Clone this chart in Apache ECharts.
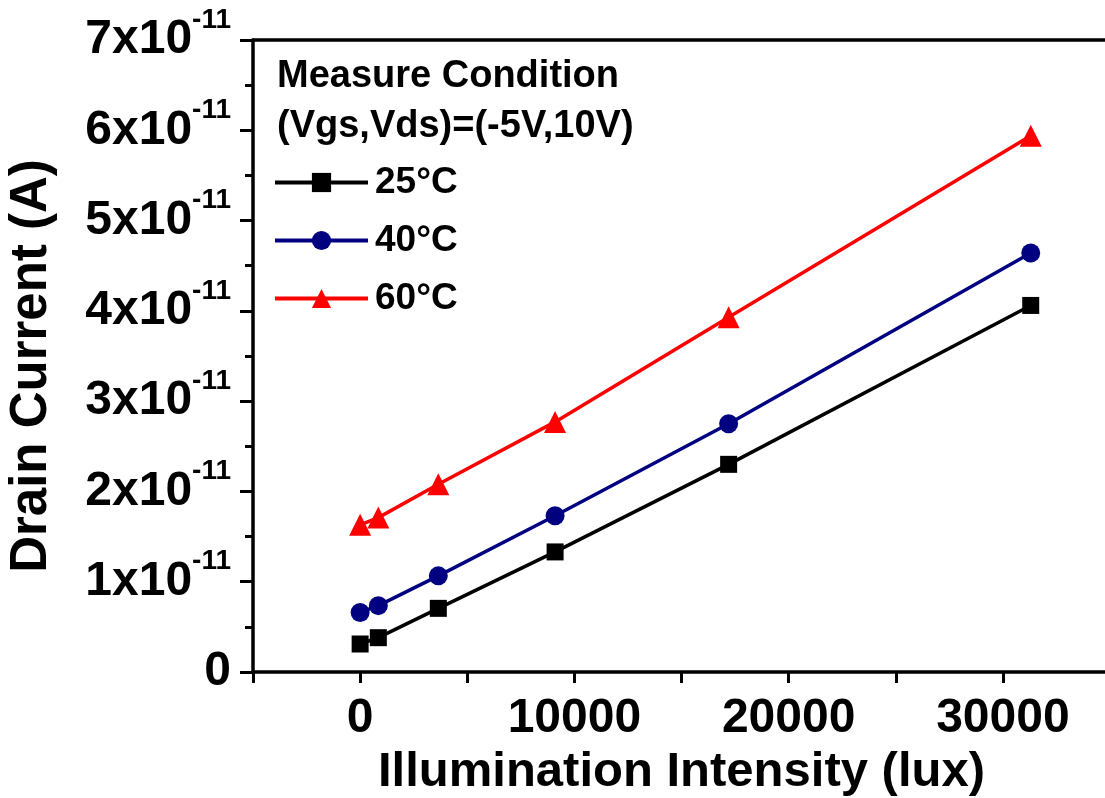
<!DOCTYPE html>
<html>
  <head>
    <title></title>
    <meta charset="UTF-8" />
    <script src="https://cdn.jsdelivr.net/npm/echarts@6/dist/echarts.min.js"></script>
    <style>
      html, body { margin: 0; padding: 0; background: #fff; }
    </style>
  </head>
  <body>
    <div id="main"></div>
    <script>
      const width = 1105;
      const height = 798;
      const main = document.getElementById('main');
      main.style.width = `${width}px`;
      main.style.height = `${height}px`;

      // illumination intensity (lux)
      const lux = [0, 850, 3650, 9100, 17200, 31300];
      // drain current (A)
      const current25 = [0.31e-11, 0.38e-11, 0.705e-11, 1.33e-11, 2.3e-11, 4.06e-11];
      const current40 = [0.66e-11, 0.735e-11, 1.065e-11, 1.73e-11, 2.75e-11, 4.64e-11];
      const current60 = [1.63e-11, 1.71e-11, 2.08e-11, 2.77e-11, 3.93e-11, 5.94e-11];
      const seriesNames = ['25°C', '40°C', '60°C'];
      const yTicks = [0, 1, 2, 3, 4, 5, 6, 7]; // x10^-11

      const font = '"Liberation Sans", Arial, sans-serif';
      const pairs = (ys) => lux.map((x, i) => [x, ys[i]]);

      const myChart = echarts.init(main);
      const option = {
        backgroundColor: '#fff',
        animation: false,
        grid: {
          left: 253,
          right: -5,
          top: 40,
          bottom: 126,
          outerBoundsMode: 'none',
        },
        graphic: [
          {
            type: 'text',
            left: 277,
            top: 58,
            style: { text: 'Measure Condition', font: `bold 38px ${font}`, fill: '#000' },
          },
          {
            type: 'text',
            left: 277,
            top: 108,
            style: { text: '(Vgs,Vds)=(-5V,10V)', font: `bold 38px ${font}`, fill: '#000' },
          },
        ],
        legend: {
          data: seriesNames,
          orient: 'vertical',
          left: 273,
          top: 164,
          padding: 0,
          itemWidth: 93,
          itemHeight: 24,
          itemGap: 21,
          lineStyle: { width: 4 },
          textStyle: {
            fontFamily: font,
            fontWeight: 'bold',
            fontSize: 37,
            color: '#000',
            lineHeight: 36,
            padding: [0, 0, 0, 2],
          },
        },
        xAxis: [
          {
            type: 'value',
            position: 'bottom',
            min: -5000,
            max: 35000,
            interval: 5000,
            name: 'Illumination Intensity (lux)',
            nameLocation: 'middle',
            nameGap: 73,
            nameTextStyle: { fontFamily: font, fontWeight: 'bold', fontSize: 49, color: '#000' },
            axisLine: { onZero: false, lineStyle: { color: '#000', width: 3.5 } },
            axisTick: { inside: false, length: 11, lineStyle: { color: '#000', width: 3 } },
            axisLabel: {
              margin: 23,
              fontFamily: font,
              fontWeight: 'bold',
              fontSize: 48,
              color: '#000',
              formatter: (v) => (v >= 0 && v % 10000 === 0 ? String(v) : ''),
            },
            splitLine: { show: false },
          },
          {
            type: 'value',
            position: 'top',
            min: -5000,
            max: 35000,
            axisLine: { onZero: false, lineStyle: { color: '#000', width: 3.5 } },
            axisTick: { show: false },
            axisLabel: { show: false },
            splitLine: { show: false },
          },
        ],
        yAxis: {
          type: 'value',
          min: 0,
          max: 7e-11,
          interval: 1e-11,
          name: 'Drain Current (A)',
          nameLocation: 'middle',
          nameGap: 196,
          nameTextStyle: { fontFamily: font, fontWeight: 'bold', fontSize: 51, color: '#000', padding: [0, 20, 0, 0] },
          axisLine: { show: true, onZero: false, lineStyle: { color: '#000', width: 3.5 } },
          axisTick: { inside: false, length: 13, lineStyle: { color: '#000', width: 3 } },
          minorTick: { show: true, splitNumber: 2, length: 8, lineStyle: { color: '#000', width: 3 } },
          axisLabel: {
            margin: 22,
            formatter: (v) => {
              const n = Math.round(v * 1e11);
              if (n === 0) return '{z|0}';
              return `{m|${yTicks[n]}x10}{s|-11}`;
            },
            rich: {
              z: { fontFamily: font, fontWeight: 'bold', fontSize: 48, color: '#000', lineHeight: 48 },
              m: { fontFamily: font, fontWeight: 'bold', fontSize: 48, color: '#000', lineHeight: 68 },
              s: { fontFamily: font, fontWeight: 'bold', fontSize: 28, color: '#000', lineHeight: 28, verticalAlign: 'top' },
            },
          },
          splitLine: { show: false },
        },
        series: [
          {
            name: seriesNames[0],
            type: 'line',
            data: pairs(current25),
            symbol: 'rect',
            symbolSize: 17,
            itemStyle: { color: '#000' },
            lineStyle: { color: '#000', width: 3.5 },
          },
          {
            name: seriesNames[1],
            type: 'line',
            data: pairs(current40),
            symbol: 'circle',
            symbolSize: 19,
            itemStyle: { color: '#000080' },
            lineStyle: { color: '#000080', width: 3.5 },
          },
          {
            name: seriesNames[2],
            type: 'line',
            data: pairs(current60),
            symbol: 'triangle',
            symbolSize: 22,
            itemStyle: { color: '#ff0000' },
            lineStyle: { color: '#ff0000', width: 3.5 },
          },
        ],
      };
      myChart.setOption(option);
    </script>
  </body>
</html>
